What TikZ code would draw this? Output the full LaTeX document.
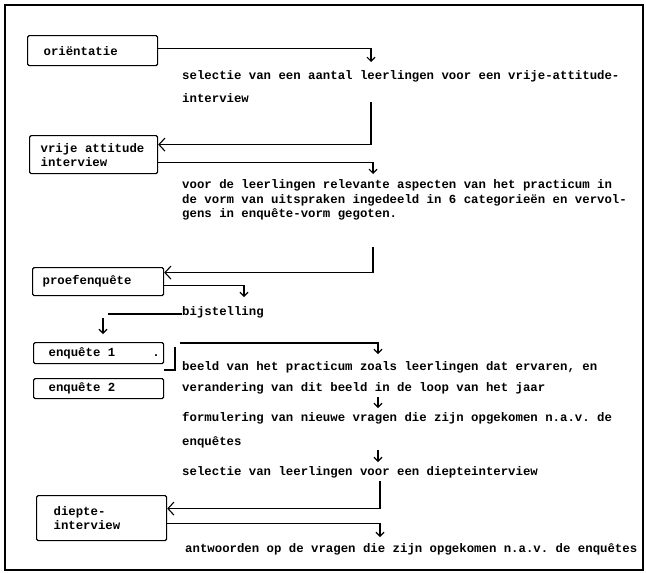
\documentclass[tikz,border=0pt]{standalone}
\usepackage{fontspec}
\setmonofont{Liberation Mono}
\usetikzlibrary{arrows.meta}
\newcommand{\typefont}{\ttfamily\bfseries\fontsize{12.35}{14}\selectfont}
\tikzset{
	stage/.style    ={rectangle, draw=black, line width=1.2pt, rounded corners=1.5pt, anchor=north west, align=left, inner ysep=0pt, font=\typefont, execute at begin node={\spaceskip=0pt\xspaceskip=0pt}},
	note/.style     ={anchor=base west, inner sep=0pt, font=\typefont},
	% connectors
	link/.style     ={line width=1.1pt},
	flowarrow/.style={link, -{Straight Barb[length=4pt, width=8pt]}},
	backarrow/.style={link, -{Straight Barb[length=6pt, width=13pt]}},
}
\begin{document}
\begin{tikzpicture}[x=1pt, y=-1pt]
			\useasboundingbox (0,0) rectangle (646,573);
			\draw[line width=1.6pt] (5,5) rectangle (643,570);
			\node[stage, minimum width=130pt, minimum height=30pt, text width=98pt, inner xsep=16pt] (or) at (27,35) {oriëntatie};
			\node[stage, minimum width=128pt, minimum height=38pt, text width=106pt, inner xsep=11pt] (vr) at (29,135) {vrije attitude\\interview};
			\node[stage, minimum width=131pt, minimum height=28pt, text width=111pt, inner xsep=10pt] (pr) at (32,267) {proefenquête};
			\node[stage, minimum width=130pt, minimum height=21pt, text width=100pt, inner xsep=15pt] (e1) at (33,342) {enquête 1\rlap{\ \ \ \ \ .}};
			\node[stage, minimum width=130pt, minimum height=20pt, text width=100pt, inner xsep=15pt] (e2) at (33,378) {enquête 2};
			\node[stage, minimum width=130pt, minimum height=45pt, text width=96pt, inner xsep=17pt] (dp) at (36,495) {diepte-\\interview};
			\node[note] (t1) at (182,79) {selectie van een aantal leerlingen voor een vrije-attitude-};
			\node[note] (t2) at (182,102) {interview};
			\node[note] (t3) at (182,188) {voor de leerlingen relevante aspecten van het practicum in};
			\node[note] (t4) at (182,203) {de vorm van uitspraken ingedeeld in 6 categorieën en vervol-};
			\node[note] (t5) at (182,217) {gens in enquête-vorm gegoten.};
			\node[note] (t6) at (182,315) {bijstelling};
			\node[note] (t7) at (182,370) {beeld van het practicum zoals leerlingen dat ervaren, en};
			\node[note] (t8) at (182,391) {verandering van dit beeld in de loop van het jaar};
			\node[note] (t9) at (182,421) {formulering van nieuwe vragen die zijn opgekomen n.a.v. de};
			\node[note] (t10) at (182,445) {enquêtes};
			\node[note] (t11) at (182,475) {selectie van leerlingen voor een diepteinterview};
			\node[note] (t12) at (185,552) {antwoorden op de vragen die zijn opgekomen n.a.v. de enquêtes};
			\coordinate (a1) at (371,62);
			\coordinate (c1) at (371,102);
			\coordinate (a2) at (373,174);
			\coordinate (c2) at (373,247);
			\coordinate (a3) at (244,297);
			\coordinate (b1) at (108,314);
			\coordinate (b2) at (103,318);
			\coordinate (b3) at (103,334);
			\coordinate (k1) at (175,347);
			\coordinate (k2) at (164,370);
			\coordinate (c3) at (180,343);
			\coordinate (a4) at (378,354);
			\coordinate (d1) at (378,397);
			\coordinate (d2) at (378,408);
			\coordinate (d3) at (378,450);
			\coordinate (d4) at (378,462);
			\coordinate (c4) at (380,481);
			\coordinate (a5) at (380,537);
			\draw[flowarrow] ([yshift=2pt]or.east) -| (a1);
			\draw[backarrow] (c1) |- ([yshift=10pt]vr.east);
			\draw[flowarrow] ([yshift=-8pt]vr.east) -| (a2);
			\draw[backarrow] (c2) |- ([yshift=9pt]pr.east);
			\draw[flowarrow] ([yshift=-4pt]pr.east) -| (a3);
			\draw[link] ([yshift=1pt]t6.base west) -- (b1);
			\draw[flowarrow] (b2) -- (b3);
			\draw[link] (k1) |- (k2);
			\draw[flowarrow] (c3) -| (a4);
			\draw[flowarrow] (d1) -- (d2);
			\draw[flowarrow] (d3) -- (d4);
			\draw[backarrow] (c4) |- ([yshift=9.5pt]dp.east);
			\draw[flowarrow] ([yshift=-5.5pt]dp.east) -| (a5);
		\end{tikzpicture}
\end{document}
